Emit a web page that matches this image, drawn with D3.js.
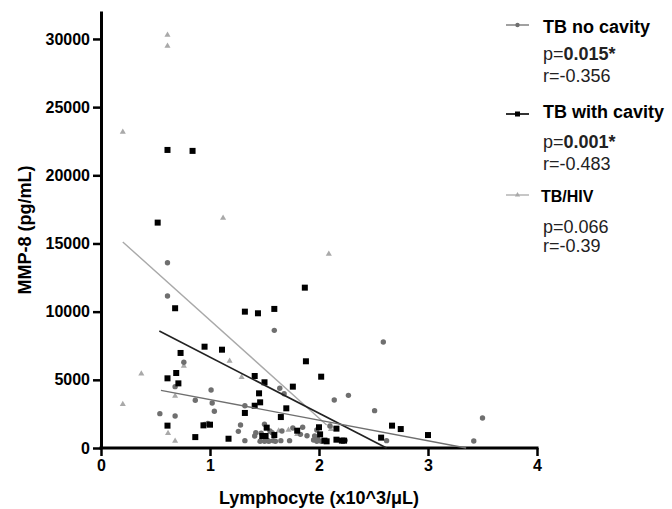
<!DOCTYPE html>
<html>
<head>
<meta charset="utf-8">
<style>
  body { margin: 0; background: #fff; font-family: "Liberation Sans", Arial, sans-serif; }
  .tick text { font-weight: bold; font-size: 16px; fill: #000; }
  .axis-title { font-weight: bold; font-size: 18px; }
  .leg-name { font-weight: bold; font-size: 18px; }
  .leg-stat { font-size: 18px; fill: #222; }
</style>
<script src="https://d3js.org/d3.v7.min.js"></script>
</head>
<body>
<div id="chart"></div>
<script>
// TB no cavity (circles)
const noCavX = [0.61,0.61,0.76,0.68,0.54,0.68,0.865,1.01,1.02,1.04,0.95,0.98,
  1.59,1.64,1.68,1.32,1.28,1.26,1.32,1.42,1.41,1.50,1.55,1.53,1.58,1.65,1.73,1.66,
  1.85,1.83,1.89,1.96,1.98,1.99,1.46,1.50,1.54,1.60,1.95,1.98,2.02,1.57,1.76,1.47,
  2.10,2.14,2.27,2.51,2.59,3.50,2.62,3.42,2.24];
const noCavY = [13590,11150,6290,4500,2520,2350,3500,4250,3300,2690,1720,1800,
  8630,4380,3980,3100,1690,1220,540,1120,880,1740,1250,540,540,540,540,1250,
  1520,1000,900,880,1320,640,490,490,490,490,590,490,490,1120,1470,1080,
  1610,3520,3860,2740,7770,2200,540,510,560];

// TB with cavity (squares)
const cavX = [0.61,0.84,0.52,1.87,0.68,1.32,1.44,1.59,0.95,0.73,1.11,1.88,0.69,0.61,
  0.71,1.41,1.50,2.02,1.76,1.45,1.46,1.41,1.32,1.70,1.65,0.61,0.94,1.00,0.865,1.17,
  1.52,1.48,1.51,1.59,1.80,2.00,2.01,2.05,2.07,2.16,2.16,2.21,2.23,2.67,2.75,3.00,2.57];
const cavY = [21860,21790,16530,11760,10250,10000,9880,10200,7430,6970,7210,6360,5500,5110,
  4740,5280,4820,5230,4500,4010,3350,3100,2570,2910,2270,1640,1660,1710,800,680,
  1490,880,880,950,1270,1520,1000,540,490,1420,610,540,540,1640,1390,950,760];

// TB/HIV (triangles)
const hivX = [0.61,0.61,0.20,1.12,2.09,0.76,0.37,0.20,0.68,0.615,0.68,1.18,1.29,1.46,
  1.63,1.72,1.80,2.11,2.11];
const hivY = [30290,29490,23180,16870,14230,6010,5450,3200,3810,1080,510,6380,5190,540,
  1270,1320,1000,1610,1370];

// regression lines as drawn [x0, y0, x1, y1]
const fitNoCav = [0.55, 4230, 3.35, 0];
const fitCav = [0.535, 8580, 2.62, 0];
const fitHiv = [0.20, 15110, 2.07, 1690];

const xTicks = [0, 1, 2, 3, 4];
const yTicks = [0, 5000, 10000, 15000, 20000, 25000, 30000];

const groupNames = ["TB no cavity", "TB with cavity", "TB/HIV"];
const pBold = ["0.015*", "0.001*", null];
const pPlain = [null, null, "0.066"];
const rVals = ["-0.356", "-0.483", "-0.39"];

const colNoCav = "#6f6f6f", colCav = "#000000", colHiv = "#a9a9a9";

const W = 672, H = 509;
const svg = d3.select("#chart").append("svg").attr("width", W).attr("height", H);

const x = d3.scaleLinear().domain([0, 4]).range([101, 537]);
const y = d3.scaleLinear().domain([0, 32050]).range([448, 11]);

// axes
const xAxis = d3.axisBottom(x).tickValues(xTicks).tickFormat(d3.format("d"))
  .tickSize(8).tickSizeOuter(0).tickPadding(4);
const yAxis = d3.axisLeft(y).tickValues(yTicks).tickFormat(d3.format("d"))
  .tickSize(8).tickSizeOuter(0).tickPadding(3);

const gx = svg.append("g").attr("transform", "translate(0,448)").call(xAxis);
const gy = svg.append("g").attr("transform", "translate(101,0)").call(yAxis);
[gx, gy].forEach(g => {
  g.select(".domain").attr("stroke", "#000").attr("stroke-width", 3);
  g.selectAll(".tick line").attr("stroke", "#000").attr("stroke-width", 2.5);
  g.selectAll(".tick text").style("font-family", "Liberation Sans, Arial, sans-serif");
});
gx.select(".domain").attr("d", `M${x(0) - 1.5},0H${x(4) + 1.5}`);

svg.append("text").attr("class", "axis-title")
  .attr("x", 319).attr("y", 504).attr("text-anchor", "middle")
  .text("Lymphocyte (x10^3/μL)");
svg.append("text").attr("class", "axis-title")
  .attr("transform", "translate(31,230) rotate(-90)").attr("text-anchor", "middle")
  .text("MMP-8 (pg/mL)");

// fit lines
function fitLine(f, col, w) {
  svg.append("line")
    .attr("x1", x(f[0])).attr("y1", y(f[1]))
    .attr("x2", x(f[2])).attr("y2", y(f[3]))
    .attr("stroke", col).attr("stroke-width", w);
}

const tri = d3.symbol().type(d3.symbolTriangle).size(16);

// points
svg.append("g").selectAll("path").data(d3.range(hivX.length)).join("path")
  .attr("transform", i => `translate(${x(hivX[i])},${y(hivY[i])})`)
  .attr("d", tri).attr("fill", colHiv);
svg.append("g").selectAll("circle").data(d3.range(noCavX.length)).join("circle")
  .attr("cx", i => x(noCavX[i])).attr("cy", i => y(noCavY[i]))
  .attr("r", 2.7).attr("fill", colNoCav);
svg.append("g").selectAll("rect").data(d3.range(cavX.length)).join("rect")
  .attr("x", i => x(cavX[i]) - 3).attr("y", i => y(cavY[i]) - 3)
  .attr("width", 6).attr("height", 6).attr("fill", colCav);

fitLine(fitHiv, colHiv, 1.4);
fitLine(fitCav, "#222", 1.6);
fitLine(fitNoCav, colNoCav, 1.4);

// legend
const legY = [25, 114, 195];
const nameY = [33, 118, 202];
const pY = [60, 148, 233];
const rY = [82, 170, 252];
const legCols = [colNoCav, colCav, colHiv];
const legG = svg.append("g");
groupNames.forEach((name, i) => {
  const ly = legY[i];
  legG.append("line").attr("x1", 506).attr("x2", 529).attr("y1", ly).attr("y2", ly)
    .attr("stroke", legCols[i]).attr("stroke-width", i === 1 ? 1.6 : 1.3);
  if (i === 0) legG.append("circle").attr("cx", 517.5).attr("cy", ly).attr("r", 2.2).attr("fill", legCols[i]);
  if (i === 1) legG.append("rect").attr("x", 515).attr("y", ly - 2.5).attr("width", 5).attr("height", 5).attr("fill", legCols[i]);
  if (i === 2) legG.append("path").attr("transform", `translate(517.5,${ly})`).attr("d", d3.symbol().type(d3.symbolTriangle).size(12)).attr("fill", legCols[i]);

  legG.append("text").attr("class", "leg-name").attr("x", i === 2 ? 541 : 543).attr("y", nameY[i])
    .style("font-size", i === 2 ? "16px" : "18px").text(name);

  const pt = legG.append("text").attr("class", "leg-stat").attr("x", 543).attr("y", pY[i]);
  pt.append("tspan").text("p=");
  if (pBold[i]) pt.append("tspan").style("font-weight", "bold").text(pBold[i]);
  else pt.append("tspan").text(pPlain[i]);

  legG.append("text").attr("class", "leg-stat").attr("x", 543).attr("y", rY[i])
    .text("r=" + rVals[i]);
});
</script>
</body>
</html>
